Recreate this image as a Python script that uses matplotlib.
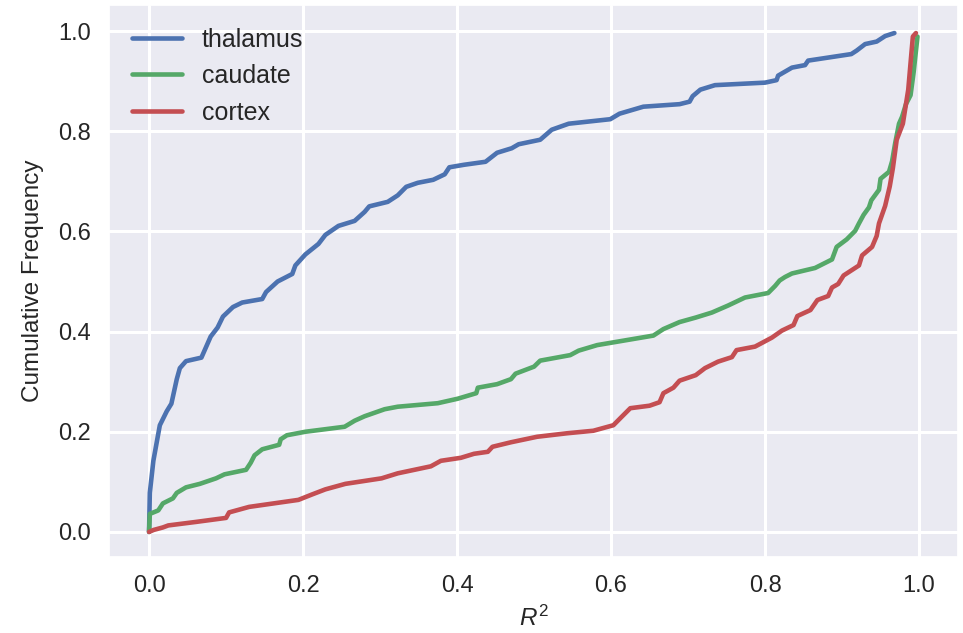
import matplotlib
matplotlib.use('Agg')
import matplotlib.pyplot as plt
import seaborn as sns

# cumulative curves (R^2, cumulative frequency)
thal_x = [0, 0.001, 0.0056, 0.014, 0.023, 0.029, 0.036, 0.04, 0.048, 0.068, 0.074, 0.08, 0.089,
          0.096, 0.109, 0.121, 0.147, 0.152, 0.167, 0.186, 0.19, 0.203, 0.22, 0.229, 0.246, 0.267,
          0.28, 0.286, 0.31, 0.323, 0.334, 0.349, 0.369, 0.384, 0.39, 0.409, 0.437, 0.452, 0.471,
          0.48, 0.508, 0.523, 0.545, 0.599, 0.611, 0.642, 0.689, 0.702, 0.706, 0.716, 0.735, 0.8,
          0.815, 0.817, 0.835, 0.852, 0.856, 0.912, 0.919, 0.93, 0.945, 0.956, 0.968]
thal_y = [0, 0.078, 0.142, 0.213, 0.241, 0.256, 0.305, 0.327, 0.341, 0.348, 0.369, 0.39, 0.408,
          0.43, 0.449, 0.458, 0.465, 0.479, 0.5, 0.515, 0.532, 0.554, 0.575, 0.593, 0.611, 0.621,
          0.639, 0.65, 0.659, 0.672, 0.689, 0.697, 0.703, 0.714, 0.728, 0.733, 0.739, 0.757, 0.766,
          0.774, 0.783, 0.803, 0.815, 0.824, 0.835, 0.849, 0.854, 0.859, 0.870, 0.883, 0.892, 0.897,
          0.902, 0.911, 0.927, 0.932, 0.941, 0.954, 0.961, 0.974, 0.979, 0.99, 0.996]

caud_x = [0, 0.001, 0.012, 0.018, 0.031, 0.036, 0.048, 0.066, 0.087, 0.098, 0.126, 0.132, 0.137,
          0.147, 0.169, 0.171, 0.179, 0.203, 0.254, 0.267, 0.28, 0.306, 0.323, 0.375, 0.401, 0.425,
          0.427, 0.452, 0.47, 0.476, 0.5, 0.508, 0.547, 0.558, 0.582, 0.655, 0.668, 0.689, 0.710,
          0.731, 0.752, 0.774, 0.804, 0.813, 0.819, 0.826, 0.835, 0.865, 0.887, 0.893, 0.906, 0.917,
          0.922, 0.928, 0.935, 0.938, 0.948, 0.95, 0.961, 0.965, 0.969, 0.974, 0.978, 0.983, 0.989,
          0.993, 0.998]
caud_y = [0, 0.036, 0.043, 0.057, 0.067, 0.078, 0.089, 0.096, 0.107, 0.115, 0.124, 0.138, 0.153,
          0.165, 0.174, 0.185, 0.193, 0.200, 0.21, 0.222, 0.231, 0.245, 0.25, 0.257, 0.266, 0.277,
          0.288, 0.295, 0.305, 0.316, 0.33, 0.342, 0.353, 0.362, 0.373, 0.392, 0.405, 0.419, 0.428,
          0.438, 0.452, 0.468, 0.477, 0.491, 0.502, 0.509, 0.516, 0.527, 0.544, 0.569, 0.584, 0.601,
          0.616, 0.633, 0.648, 0.662, 0.683, 0.705, 0.719, 0.74, 0.776, 0.815, 0.829, 0.854, 0.872,
          0.918, 0.989]

cort_x = [0, 0.006, 0.018, 0.025, 0.061, 0.1, 0.104, 0.13, 0.194, 0.212, 0.229, 0.255, 0.302,
          0.323, 0.366, 0.379, 0.405, 0.422, 0.44, 0.446, 0.47, 0.504, 0.543, 0.577, 0.603, 0.612,
          0.625, 0.65, 0.663, 0.668, 0.681, 0.689, 0.710, 0.722, 0.739, 0.757, 0.763, 0.787, 0.809,
          0.822, 0.837, 0.842, 0.859, 0.868, 0.882, 0.887, 0.895, 0.902, 0.913, 0.922, 0.926, 0.939,
          0.945, 0.948, 0.956, 0.962, 0.966, 0.971, 0.979, 0.986, 0.99, 0.992, 0.996]
cort_y = [0, 0.004, 0.009, 0.013, 0.02, 0.028, 0.039, 0.05, 0.064, 0.075, 0.085, 0.096, 0.107,
          0.117, 0.131, 0.142, 0.148, 0.156, 0.16, 0.17, 0.179, 0.19, 0.197, 0.202, 0.213, 0.227,
          0.247, 0.252, 0.259, 0.277, 0.288, 0.302, 0.313, 0.327, 0.34, 0.349, 0.363, 0.37, 0.388,
          0.402, 0.413, 0.431, 0.443, 0.463, 0.471, 0.488, 0.495, 0.512, 0.523, 0.532, 0.552, 0.569,
          0.591, 0.616, 0.651, 0.69, 0.726, 0.783, 0.815, 0.883, 0.954, 0.989, 0.996]

sns.set_theme(style='darkgrid')
plt.rcParams['font.family'] = ['Liberation Sans', 'DejaVu Sans']
plt.rcParams['mathtext.fontset'] = 'custom'
plt.rcParams['mathtext.rm'] = 'Liberation Sans'
plt.rcParams['mathtext.it'] = 'Liberation Sans:italic'
plt.rcParams['grid.linewidth'] = 2.2
plt.rcParams['legend.frameon'] = False

fig = plt.figure(figsize=(9.63, 6.33), dpi=100)
ax = fig.add_axes([0.1132, 0.1201, 0.8816, 0.8720])

ax.plot(thal_x, thal_y, lw=3.3, color='#4C72B0', label='thalamus')
ax.plot(caud_x, caud_y, lw=3.3, color='#55A868', label='caudate')
ax.plot(cort_x, cort_y, lw=3.3, color='#C44E52', label='cortex')

ax.set_xlim(-0.052, 1.0506)
ax.set_ylim(-0.05, 1.052)
ax.set_xticks([0, 0.2, 0.4, 0.6, 0.8, 1.0])
ax.set_yticks([0, 0.2, 0.4, 0.6, 0.8, 1.0])
ax.tick_params(labelsize=17, pad=7)
ax.set_xlabel('$R^2$', fontsize=17.5, labelpad=6)
ax.set_ylabel('Cumulative Frequency', fontsize=17.5, labelpad=10)
ax.legend(loc='upper left', fontsize=18)

fig.savefig('out.png', dpi=100)
